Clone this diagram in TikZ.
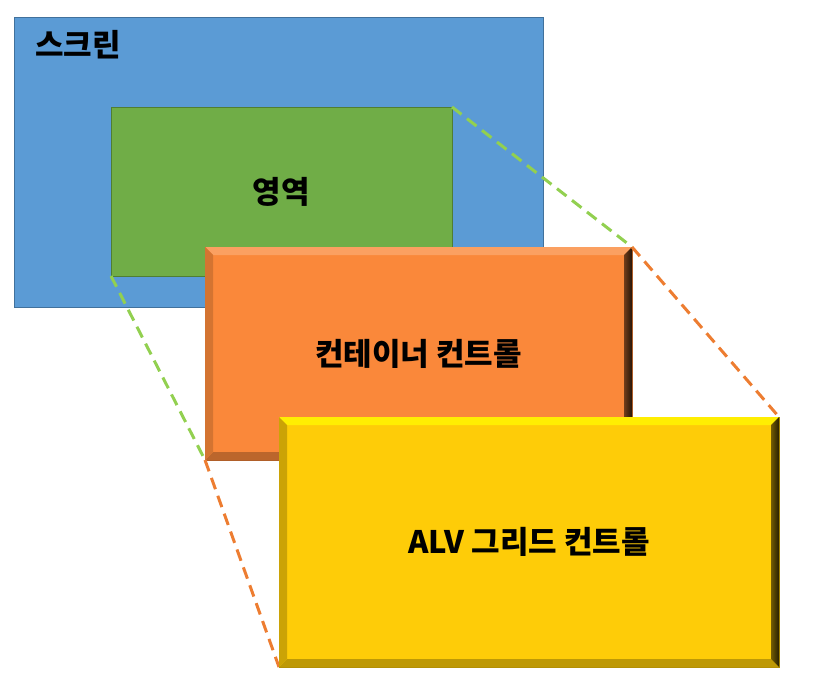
\documentclass[tikz,border=0pt]{standalone}
\usepackage{fontspec}
\newfontfamily\kofont{Noto Sans CJK KR}
\definecolor{bluefill}{HTML}{5B9BD5}
\definecolor{blueline}{HTML}{41719C}
\definecolor{greenfill}{HTML}{70AD47}
\definecolor{greenline}{HTML}{507E32}
\definecolor{greendash}{HTML}{92D050}
\definecolor{orangefill}{HTML}{FA883A}
\definecolor{orangedash}{HTML}{ED7D31}
\definecolor{yellowfill}{HTML}{FECC08}
% bevelled edge: node, top, left, right, bottom colours
\newcommand\bevelbox[5]{%
  \fill[#2] (#1.north west) -- (#1.north east) -- ([shift={(-8,8)}]#1.north east) -- ([shift={(8,8)}]#1.north west) -- cycle;
  \fill[#5] (#1.south west) -- (#1.south east) -- ([shift={(-8,-8)}]#1.south east) -- ([shift={(8,-8)}]#1.south west) -- cycle;
  \fill[#3] (#1.north west) -- ([shift={(8,8)}]#1.north west) -- ([shift={(8,-8)}]#1.south west) -- (#1.south west) -- cycle;
  \shade[left color=#4!45!black,right color=#4!15!black] (#1.north east) -- ([shift={(-8,8)}]#1.north east) -- ([shift={(-8,-8)}]#1.south east) -- (#1.south east) -- cycle;
}
\begin{document}
\begin{tikzpicture}[x=1pt,y=-1pt,
  every node/.style={font=\kofont\bfseries\fontsize{31}{36}\selectfont,inner sep=0pt,outer sep=0pt},
  flatbox/.style={draw=#1,line width=1pt},
  bevelfill/.style={fill=#1,draw=#1!70!black,line width=0.8pt},
  linkgreen/.style={greendash,line width=3pt,dash pattern=on 12pt off 7pt},
  linkorange/.style={orangedash,line width=3pt,dash pattern=on 12pt off 7pt}]
  \useasboundingbox (0,0) rectangle (818,685);
  \node[flatbox=blueline,fill=bluefill,minimum width=529pt,minimum height=289pt,anchor=north west] (screen) at (14,18) {};
  \node (screenlbl) at (78,45) {스크린};
  \node[flatbox=greenline,fill=greenfill,minimum width=341pt,minimum height=169pt] (area) at (281.5,191.5) {영역};
  \draw[linkgreen] (area.north east) -- (632,247) coordinate (cne);
  \draw[linkgreen] (area.south west) -- (205,460) coordinate (csw);
  \node[bevelfill=orangefill,minimum width=427pt,minimum height=213pt,anchor=north west] (cont) at (205,247) {컨테이너 컨트롤};
  \bevelbox{cont}{orangefill!80!white}{orangefill!85!black}{orangefill}{orangefill!75!black}
  \draw[linkorange] (cont.north east) -- (779,417) coordinate (ane);
  \draw[linkorange] (cont.south west) -- (279,667) coordinate (asw);
  \node[bevelfill=yellowfill,minimum width=500pt,minimum height=250pt,anchor=north west] (alv) at (279,417) {ALV 그리드 컨트롤};
  \bevelbox{alv}{yellow!90!yellowfill}{yellowfill!80!black}{yellowfill}{yellowfill!75!black}
\end{tikzpicture}
\end{document}
